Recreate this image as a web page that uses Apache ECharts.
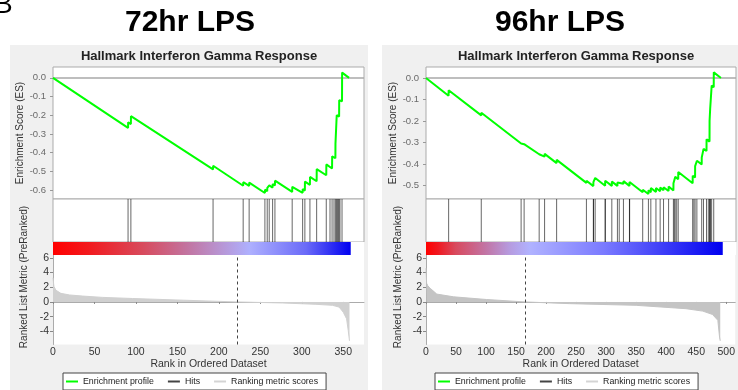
<!DOCTYPE html>
<html>
<head>
<meta charset="utf-8">
<title>Hallmark Interferon Gamma Response - 72hr / 96hr LPS</title>
<script src="https://cdn.jsdelivr.net/npm/echarts@6/dist/echarts.min.js"></script>
<style>
  html, body { margin: 0; padding: 0; background: #fff; }
  #wrap { position: relative; width: 738px; height: 390px; overflow: hidden; }
  .panel { position: absolute; top: 45px; height: 345px; background: #f0f0f0; }
  #chart { position: absolute; left: 0; top: 0; width: 738px; height: 390px; }
</style>
</head>
<body>
<div id="wrap">
  <div class="panel" style="left:10px;width:358px"></div>
  <div class="panel" style="left:382px;width:356px"></div>
  <div id="chart"></div>
</div>
<script>
// ---- 72hr LPS ----
var leftEsRank = [0, 90.5, 90.6, 93.9, 94, 193, 193.1, 229.3, 229.4, 236.5, 236.6, 255.5, 255.6, 258.3, 258.4, 260.7, 260.8, 264.8, 264.9, 267.6, 267.7, 288.4, 288.5, 301, 301.1, 303.7, 303.8, 309.8, 309.9, 317.9, 318, 329.5, 329.6, 336.5, 336.6, 340.5, 340.6, 342, 342.1, 345, 345.1, 348.5, 348.6, 357];
var leftEsScore = [0, -0.268, -0.238, -0.247, -0.205, -0.49, -0.47, -0.577, -0.558, -0.578, -0.56, -0.616, -0.598, -0.606, -0.588, -0.595, -0.575, -0.587, -0.568, -0.576, -0.55, -0.61, -0.583, -0.615, -0.595, -0.603, -0.555, -0.572, -0.53, -0.553, -0.488, -0.521, -0.463, -0.485, -0.42, -0.43, -0.352, -0.355, -0.2, -0.207, -0.12, -0.125, 0.028, 0];
var leftHits = [90.5, 93.9, 193, 229.3, 236.5, 255.5, 258.3, 260.7, 264.8, 267.6, 288.4, 301, 303.7, 309.8, 317.9, 329.5, 334, 336.5, 338.8, 340.5, 342, 342.8, 344, 345, 346, 348.5];
var leftMetricRank = [0, 0.6, 1.2, 3.5, 9.5, 20, 36, 60, 96, 157, 222, 277, 317, 337, 345, 350, 354, 356, 357.5];
var leftMetricValue = [3.3, 2.6, 2.1, 1.6, 1.17, 0.95, 0.8, 0.62, 0.47, 0.24, 0, -0.14, -0.32, -0.46, -0.7, -1.4, -2.3, -3.9, -5.3];
var leftGenes = 359;
var leftZeroCross = 222;

// ---- 96hr LPS ----
var rightEsRank = [0, 37.5, 37.6, 91.8, 91.9, 158, 158.1, 163, 163.1, 188, 188.1, 197, 197.1, 217, 217.1, 266.5, 266.6, 278, 278.1, 281, 281.1, 297.6, 297.7, 308.7, 308.8, 318, 318.1, 321, 321.1, 328, 328.1, 338, 338.1, 360, 360.1, 369.5, 369.6, 373.5, 373.6, 382, 382.1, 389, 389.1, 394.6, 394.7, 403, 403.1, 411, 411.1, 414, 414.1, 419, 419.1, 443, 443.1, 447, 447.1, 450, 450.1, 458, 458.1, 461, 461.1, 466, 466.1, 471, 471.1, 472, 472.1, 474.5, 474.6, 478, 478.1, 490];
var rightEsScore = [0, -0.083, -0.057, -0.174, -0.162, -0.305, -0.297, -0.308, -0.3, -0.355, -0.346, -0.366, -0.353, -0.396, -0.381, -0.488, -0.478, -0.503, -0.485, -0.491, -0.465, -0.501, -0.478, -0.502, -0.482, -0.502, -0.486, -0.492, -0.477, -0.492, -0.48, -0.502, -0.484, -0.532, -0.52, -0.54, -0.522, -0.531, -0.512, -0.53, -0.512, -0.527, -0.51, -0.522, -0.508, -0.526, -0.505, -0.523, -0.49, -0.497, -0.46, -0.471, -0.437, -0.49, -0.455, -0.463, -0.41, -0.417, -0.385, -0.402, -0.37, -0.376, -0.33, -0.34, -0.285, -0.296, -0.2, -0.202, -0.143, -0.15, -0.035, -0.043, 0.026, 0];
var rightHits = [37.6, 91.8, 158, 163, 188, 197, 217, 266.5, 278, 278.3, 281, 297.6, 297.9, 308.7, 318, 321, 328, 338, 338.3, 360, 369.5, 373.5, 382, 389, 394.6, 403, 411, 412.5, 414, 416.5, 419, 443, 445, 447, 450, 458, 461, 466, 469, 471, 472, 472.3, 474.5, 478];
var rightMetricRank = [0, 1, 3, 7, 18, 46, 101, 165, 239, 350, 433, 461, 477, 486, 489, 490];
var rightMetricValue = [4.6, 2.55, 2.2, 1.86, 1.07, 0.7, 0.33, 0, -0.23, -0.46, -0.92, -1.25, -1.7, -2.5, -4.9, -5.3];
var rightGenes = 493;
var rightZeroCross = 165;

var FONT = "'Liberation Sans', Arial, sans-serif";
var legendNames = ['Enrichment profile', 'Hits', 'Ranking metric scores'];

function zip(a, b) {
  return a.map(function (v, i) { return [v, b[i]]; });
}

var panels = [
  {
    title: '72hr LPS', titleX: 190, subX: 199, nameX: 24, legendLeft: 63,
    left: 53, width: 311, xMax: 375, esMin: -0.648, esMax: 0.058,
    esRank: leftEsRank, esScore: leftEsScore, hits: leftHits,
    mRank: leftMetricRank, mValue: leftMetricValue,
    genes: leftGenes, zero: leftZeroCross, areaColor: '#d0d0d0',
    stops: [[0, '#ff0000'], [0.12, '#f21a1e'], [0.3, '#d84a5c'], [0.45, '#c274a0'], [0.56, '#b894d2'], [0.66, '#aeb0fe'], [0.85, '#6a6af8'], [1, '#0000f0']]
  },
  {
    title: '96hr LPS', titleX: 560, subX: 576, nameX: 398, legendLeft: 435,
    left: 426, width: 310, xMax: 515, esMin: -0.563, esMax: 0.051,
    esRank: rightEsRank, esScore: rightEsScore, hits: rightHits,
    mRank: rightMetricRank, mValue: rightMetricValue,
    genes: rightGenes, zero: rightZeroCross, areaColor: '#c4c4c4',
    stops: [[0, '#ff0000'], [0.04, '#f01820'], [0.1, '#d84a5e'], [0.2, '#c274a4'], [0.28, '#b69ade'], [0.35, '#b0b2ff'], [0.6, '#7a7aff'], [1, '#0000f0']]
  }
];

var grid = [], xAxis = [], yAxis = [], series = [], legend = [], graphic = [];

graphic.push({
  type: 'text', x: -6, y: 5, silent: true,
  style: { text: 'B', font: 'normal 28px ' + FONT, fill: '#000', align: 'left', verticalAlign: 'middle', textAlign: 'left', textVerticalAlign: 'middle' }
});

panels.forEach(function (p, k) {
  var g = k * 4;
  var bar = p.stops.map(function (s) { return { offset: s[0], color: s[1] }; });

  // titles / side name
  graphic.push({
    type: 'text', x: p.titleX, y: 23, silent: true,
    style: { text: p.title, font: 'bold 30px ' + FONT, fill: '#000', align: 'center', verticalAlign: 'middle', textAlign: 'center', textVerticalAlign: 'middle' }
  });
  graphic.push({
    type: 'text', x: p.subX, y: 56, silent: true,
    style: { text: 'Hallmark Interferon Gamma Response', font: 'bold 13px ' + FONT, fill: '#222', align: 'center', verticalAlign: 'middle', textAlign: 'center', textVerticalAlign: 'middle' }
  });
  graphic.push({
    type: 'text', x: p.nameX, y: 277, rotation: Math.PI / 2, silent: true,
    style: { text: 'Ranked List Metric (PreRanked)', font: '10px ' + FONT, fill: '#333', align: 'center', verticalAlign: 'middle', textAlign: 'center', textVerticalAlign: 'middle' }
  });

  // 4 stacked grids: ES, hits, colour bar, ranked metric
  grid.push({ left: p.left, top: 67, width: p.width, height: 132, show: true, backgroundColor: '#fff', borderColor: '#ababab', borderWidth: 1 });
  grid.push({ left: p.left, top: 199, width: p.width, height: 43, show: true, backgroundColor: '#fff', borderColor: '#ababab', borderWidth: 1 });
  grid.push({ left: p.left, top: 242, width: p.width, height: 13, show: true, backgroundColor: '#fff', borderWidth: 0 });
  grid.push({ left: p.left, top: 255, width: p.width, height: 89.5, show: true, backgroundColor: '#fff', borderWidth: 0 });

  for (var i = 0; i < 3; i++) {
    xAxis.push({ type: 'value', gridIndex: g + i, min: 0, max: p.xMax, show: false });
  }
  xAxis.push({
    type: 'value', gridIndex: g + 3, min: 0, max: p.xMax, interval: 50,
    axisLine: { lineStyle: { color: '#ababab' } },
    axisTick: { length: 2, lineStyle: { color: '#888' } },
    axisLabel: { color: '#333', fontSize: 10.5, fontFamily: FONT, margin: 2, showMaxLabel: false },
    splitLine: { show: false },
    name: 'Rank in Ordered Dataset', nameLocation: 'middle', nameGap: 12,
    nameTextStyle: { color: '#333', fontSize: 10.5, fontFamily: FONT }
  });

  yAxis.push({
    type: 'value', gridIndex: g, min: p.esMin, max: p.esMax, splitNumber: 7,
    axisLine: { show: false },
    axisTick: { length: 3, lineStyle: { color: '#999' } },
    axisLabel: {
      color: '#6a6a6a', fontSize: 9.5, fontFamily: FONT, margin: 7,
      showMinLabel: false, showMaxLabel: false,
      formatter: function (v) { return v.toFixed(1); }
    },
    splitLine: { show: false },
    name: 'Enrichment Score (ES)', nameLocation: 'middle', nameGap: 24,
    nameTextStyle: { color: '#333', fontSize: 10, fontFamily: FONT }
  });
  yAxis.push({ type: 'value', gridIndex: g + 1, min: 0, max: 1, show: false });
  yAxis.push({ type: 'value', gridIndex: g + 2, min: 0, max: 1, show: false });
  yAxis.push({
    type: 'value', gridIndex: g + 3, min: -5.8, max: 6.4, splitNumber: 6,
    axisLine: { show: true, lineStyle: { color: '#ababab' } },
    axisTick: { length: 3, lineStyle: { color: '#888' } },
    axisLabel: { color: '#333', fontSize: 10.5, fontFamily: FONT, margin: 4, showMinLabel: false, showMaxLabel: false },
    splitLine: { show: false }
  });

  series.push({
    name: 'Enrichment profile', type: 'line', xAxisIndex: g, yAxisIndex: g,
    data: zip(p.esRank, p.esScore), symbol: 'none', z: 5,
    lineStyle: { color: '#00ff00', width: 2 }, itemStyle: { color: '#00ff00' },
    markLine: {
      silent: true, symbol: ['none', 'none'], label: { show: false },
      lineStyle: { color: '#a8a8a8', width: 1.5, type: 'solid' },
      data: [{ yAxis: 0 }]
    }
  });
  series.push({
    name: 'Hits', type: 'bar', xAxisIndex: g + 1, yAxisIndex: g + 1,
    data: p.hits.map(function (h) { return [h, 1]; }),
    barWidth: 1, itemStyle: { color: 'rgba(0,0,0,0.6)' }
  });
  series.push({
    type: 'custom', xAxisIndex: g + 2, yAxisIndex: g + 2,
    data: [[0, p.genes]], encode: { x: [0, 1] }, silent: true,
    renderItem: function (params, api) {
      var a = api.coord([api.value(0), 1]);
      var b = api.coord([api.value(1), 0]);
      return {
        type: 'rect',
        shape: { x: a[0], y: a[1], width: b[0] - a[0], height: b[1] - a[1] },
        style: { fill: new echarts.graphic.LinearGradient(0, 0, 1, 0, bar) }
      };
    }
  });
  series.push({
    name: 'Ranking metric scores', type: 'line', xAxisIndex: g + 3, yAxisIndex: g + 3,
    data: zip(p.mRank, p.mValue), symbol: 'none',
    lineStyle: { color: p.areaColor, width: 1 }, itemStyle: { color: p.areaColor },
    areaStyle: { color: p.areaColor, opacity: 1 },
    markLine: {
      silent: true, symbol: ['none', 'none'], label: { show: false },
      lineStyle: { color: '#444', width: 1, type: [3, 3] },
      data: [{ xAxis: p.zero }]
    }
  });

  legend.push({
    left: p.legendLeft, top: 373, orient: 'horizontal', selectedMode: false,
    backgroundColor: '#fff', borderColor: '#444', borderWidth: 1,
    padding: [4, 8, 4, 3], itemGap: 14, itemWidth: 12, itemHeight: 2,
    textStyle: { color: '#222', fontSize: 8.8, fontFamily: FONT },
    data: [
      { name: legendNames[0], icon: 'rect', itemStyle: { color: '#00ff00' } },
      { name: legendNames[1], icon: 'rect', itemStyle: { color: '#444' } },
      { name: legendNames[2], icon: 'rect', itemStyle: { color: '#d4d4d4' } }
    ]
  });
});

var myChart = echarts.init(document.getElementById('chart'));
myChart.setOption({
  backgroundColor: 'transparent',
  animation: false,
  textStyle: { fontFamily: FONT },
  grid: grid,
  xAxis: xAxis,
  yAxis: yAxis,
  legend: legend,
  graphic: graphic,
  series: series
});
</script>
</body>
</html>
